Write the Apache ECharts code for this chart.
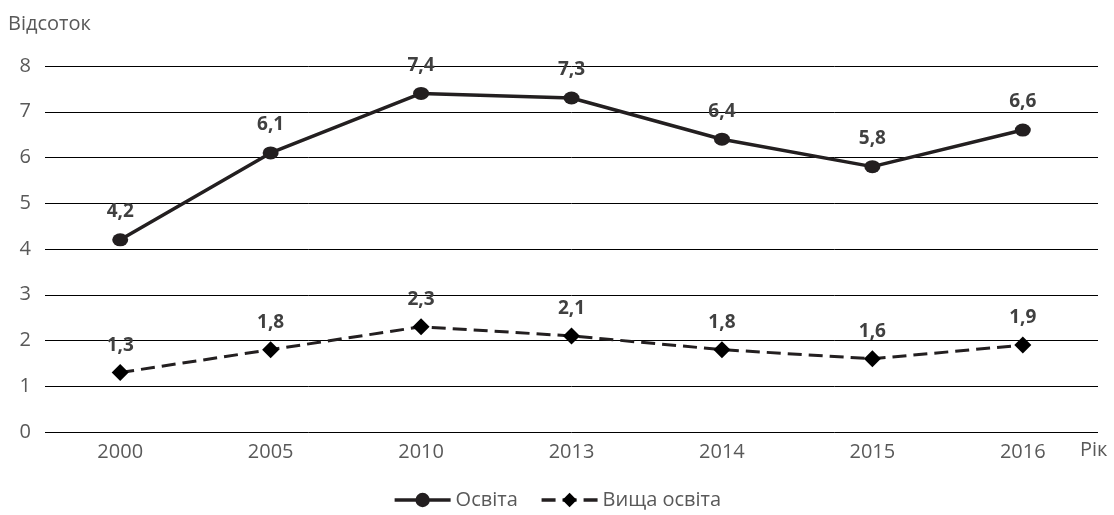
<!DOCTYPE html>
<html>
<head>
<meta charset="utf-8">
<script src="https://cdn.jsdelivr.net/npm/echarts@6/dist/echarts.min.js"></script>
<style>
  html, body { margin: 0; padding: 0; background: #fff; }
  #chart { width: 1114px; height: 515px; }
</style>
</head>
<body>
<div id="chart"></div>
<script>
var years = ['2000', '2005', '2010', '2013', '2014', '2015', '2016'];
var osvita = [4.2, 6.1, 7.4, 7.3, 6.4, 5.8, 6.6];
var vyshchaOsvita = [1.3, 1.8, 2.3, 2.1, 1.8, 1.6, 1.9];

var font = '"Open Sans", "Noto Sans", sans-serif';
var chart = echarts.init(document.getElementById('chart'));

function fmt (p) {
  return String(p.value).replace('.', ',');
}

chart.setOption({
  animation: false,
  textStyle: { fontFamily: font },
  grid: { left: 45, right: 16, top: 66, bottom: 83 },
  legend: {
    bottom: 0,
    left: 'center',
    itemWidth: 56,
    itemHeight: 18,
    itemGap: 22,
    lineStyle: { width: 3.5 },
    textStyle: { fontSize: 20, color: '#595959', fontFamily: font },
    data: ['Освіта', 'Вища освіта']
  },
  xAxis: {
    type: 'category',
    data: years,
    name: 'Рік',
    nameLocation: 'end',
    nameGap: -18,
    nameTextStyle: { fontSize: 20, color: '#595959', verticalAlign: 'top', padding: [8, 0, 0, 0], align: 'left' },
    axisLine: { show: false },
    axisTick: { show: false },
    axisLabel: { fontSize: 20, color: '#595959', margin: 10 }
  },
  yAxis: {
    type: 'value',
    min: 0,
    max: 8,
    interval: 1,
    name: 'Відсоток',
    nameLocation: 'end',
    nameGap: 32,
    nameTextStyle: { fontSize: 20, color: '#595959', align: 'left', padding: [0, 0, 0, -37] },
    axisLine: { show: false },
    axisTick: { show: false },
    axisLabel: { fontSize: 20, color: '#595959', margin: 14 },
    splitLine: { lineStyle: { color: '#000', width: 1 } }
  },
  series: [
    {
      name: 'Освіта',
      type: 'line',
      data: osvita,
      symbol: 'circle',
      symbolSize: [16, 13],
      lineStyle: { color: '#231f20', width: 3.5 },
      itemStyle: { color: '#231f20' },
      label: {
        show: true,
        position: 'top',
        distance: 12,
        formatter: fmt,
        fontSize: 19,
        fontWeight: 'bold',
        color: '#404040'
      }
    },
    {
      name: 'Вища освіта',
      type: 'line',
      data: vyshchaOsvita,
      symbol: 'diamond',
      symbolSize: 17,
      lineStyle: { color: '#231f20', width: 3, type: [14, 7] },
      itemStyle: { color: '#000' },
      label: {
        show: true,
        position: 'top',
        distance: 9,
        formatter: fmt,
        fontSize: 19,
        fontWeight: 'bold',
        color: '#404040'
      }
    }
  ]
});
</script>
</body>
</html>
